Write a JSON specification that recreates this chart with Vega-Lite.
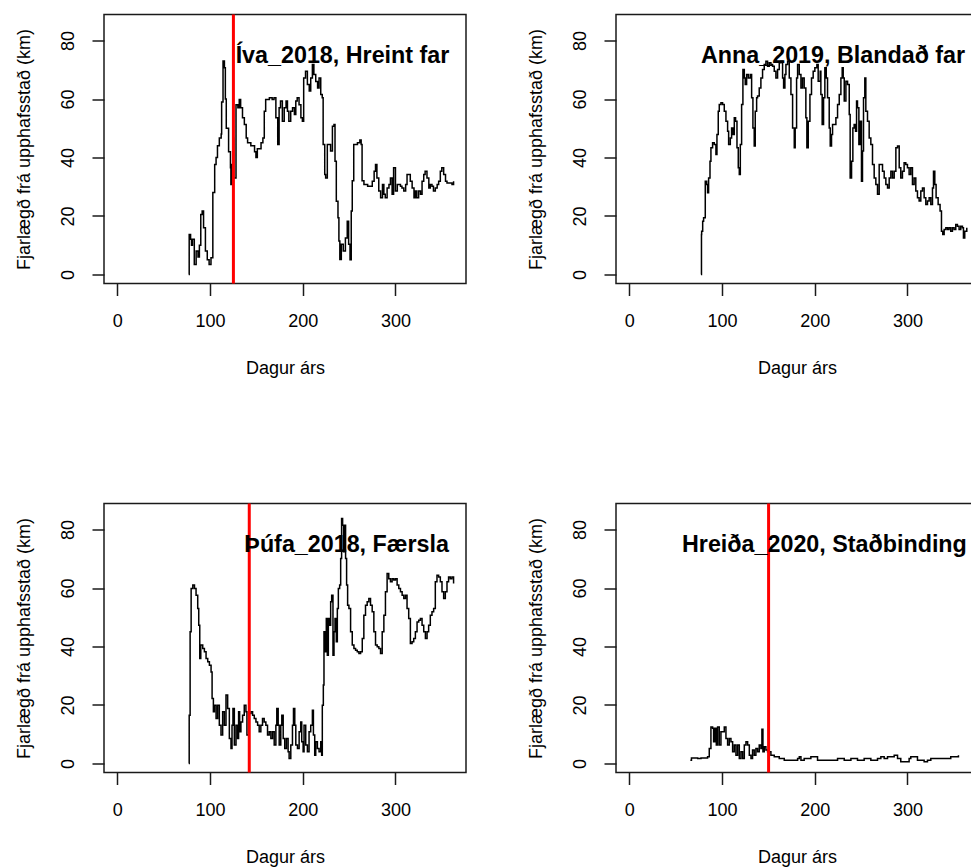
{
  "$schema": "https://vega.github.io/schema/vega-lite/v6.json",
  "padding": {"left": 14, "top": 11.5, "right": 0, "bottom": 0},
  "bounds": "flush",
  "spacing": {"row": 220, "column": 150},
  "columns": 2,
  "datasets": {
    "iva": [
      {"day":77,"km":0},{"day":77.5,"km":13.7},{"day":79,"km":12},{"day":80,"km":10},{"day":81,"km":12},{"day":83,"km":3.4},{"day":85,"km":8},{"day":87,"km":6},{"day":88.5,"km":10},{"day":90,"km":20.5},{"day":91.5,"km":21.7},{"day":93,"km":16},{"day":95,"km":8},{"day":97,"km":5},{"day":99,"km":3.4},{"day":101,"km":5.7},{"day":103,"km":28},{"day":105,"km":37.6},{"day":106.5,"km":40},{"day":108,"km":44},{"day":110,"km":46.7},{"day":112,"km":48},{"day":112.5,"km":59},{"day":114,"km":73},{"day":115.5,"km":70.7},{"day":116.5,"km":60},{"day":117.5,"km":50},{"day":120,"km":42},{"day":122,"km":36.5},{"day":122.5,"km":30.8},{"day":123.5,"km":37.6},{"day":124.7,"km":46.7},{"day":125.5,"km":33},{"day":128,"km":58},{"day":130,"km":57},{"day":131.5,"km":59.8},{"day":133,"km":57},{"day":135,"km":53.6},{"day":137,"km":51.3},{"day":139,"km":46.7},{"day":140.5,"km":45},{"day":144,"km":44},{"day":148,"km":42},{"day":149.5,"km":40},{"day":151,"km":43},{"day":155,"km":45},{"day":157,"km":46.7},{"day":158.5,"km":55.8},{"day":160,"km":59.8},{"day":164,"km":60.4},{"day":167,"km":59.8},{"day":169,"km":60.4},{"day":171,"km":53.6},{"day":173,"km":44.4},{"day":174.5,"km":57},{"day":176,"km":59.3},{"day":178,"km":52.4},{"day":180,"km":57},{"day":182,"km":59.3},{"day":183.5,"km":55.8},{"day":185,"km":52.4},{"day":187,"km":55.8},{"day":189,"km":57},{"day":191,"km":54.7},{"day":192.5,"km":59.3},{"day":194,"km":60.4},{"day":196,"km":58},{"day":198,"km":53.6},{"day":199.6,"km":52.4},{"day":201,"km":67.2},{"day":203,"km":69.5},{"day":205,"km":65},{"day":207,"km":62.7},{"day":208.6,"km":67.2},{"day":210.4,"km":71.8},{"day":212,"km":68.4},{"day":214,"km":66},{"day":216,"km":63.8},{"day":217.6,"km":67.2},{"day":219.4,"km":61.5},{"day":221,"km":60.4},{"day":222,"km":44.4},{"day":223.7,"km":34.2},{"day":224.7,"km":33},{"day":226.5,"km":44.4},{"day":228.3,"km":44.4},{"day":230,"km":42.2},{"day":232,"km":50.7},{"day":233.7,"km":51.3},{"day":234.8,"km":38.7},{"day":236.2,"km":25},{"day":238,"km":19.4},{"day":239,"km":11.4},{"day":240,"km":5.1},{"day":241.6,"km":10.3},{"day":243.7,"km":8},{"day":246,"km":12.5},{"day":248,"km":18.2},{"day":249.5,"km":10.3},{"day":251,"km":5},{"day":252.3,"km":21.7},{"day":253.4,"km":32},{"day":255,"km":44.4},{"day":259,"km":45},{"day":261.6,"km":46},{"day":263,"km":44.4},{"day":264,"km":32},{"day":266,"km":30.8},{"day":270,"km":30.2},{"day":273,"km":30.2},{"day":275,"km":31.9},{"day":277,"km":35.3},{"day":278.5,"km":37.6},{"day":280,"km":33},{"day":282,"km":28.5},{"day":284,"km":26.2},{"day":286,"km":30.8},{"day":287.5,"km":27.4},{"day":289,"km":26.2},{"day":291,"km":29.6},{"day":293,"km":30.8},{"day":294.6,"km":33},{"day":296.4,"km":27.4},{"day":298,"km":36.5},{"day":300,"km":28.5},{"day":302,"km":30.8},{"day":304,"km":30.8},{"day":305.4,"km":30.2},{"day":307,"km":29.6},{"day":309,"km":28.5},{"day":311,"km":30.8},{"day":312.5,"km":34.2},{"day":314.3,"km":34.2},{"day":316,"km":31.9},{"day":318,"km":29.6},{"day":320,"km":26.2},{"day":321.5,"km":28.5},{"day":323,"km":26.2},{"day":325,"km":28.5},{"day":327,"km":27.4},{"day":328.7,"km":31.9},{"day":330.5,"km":34.2},{"day":332,"km":35.3},{"day":334,"km":33},{"day":336,"km":29.6},{"day":337.6,"km":30.8},{"day":339.4,"km":30.2},{"day":341,"km":28.5},{"day":343,"km":29.6},{"day":345,"km":30.8},{"day":346.6,"km":31.9},{"day":348.4,"km":35.3},{"day":350,"km":36.5},{"day":352,"km":34.2},{"day":354,"km":31.9},{"day":355.6,"km":31.3},{"day":359,"km":31.3},{"day":361,"km":30.8},{"day":362.7,"km":31.9}
    ],
    "anna": [
      {"day":77.3,"km":0},{"day":77.8,"km":13.7},{"day":78,"km":14.8},{"day":79.1,"km":18.2},{"day":80.1,"km":19.4},{"day":81.9,"km":31.9},{"day":83.4,"km":30.8},{"day":84.4,"km":27.9},{"day":85.5,"km":33},{"day":87,"km":38.7},{"day":88,"km":43.3},{"day":89.8,"km":45},{"day":91.6,"km":44.4},{"day":93.4,"km":41},{"day":94.5,"km":47.9},{"day":95.9,"km":55.8},{"day":97,"km":58.1},{"day":98.8,"km":58.7},{"day":100.6,"km":58.1},{"day":102.4,"km":55.8},{"day":104.2,"km":52.4},{"day":106,"km":49},{"day":107.1,"km":44.4},{"day":108.9,"km":46.7},{"day":110.3,"km":50.1},{"day":111.8,"km":47.9},{"day":113.2,"km":53.6},{"day":114.6,"km":52.4},{"day":116.1,"km":43.3},{"day":117.5,"km":36.5},{"day":118.6,"km":34.2},{"day":119.7,"km":44.4},{"day":121.1,"km":58.1},{"day":122.5,"km":70.1},{"day":124,"km":67.2},{"day":125,"km":65},{"day":126.5,"km":68.4},{"day":128.3,"km":67.2},{"day":130.4,"km":68.4},{"day":131.9,"km":60.4},{"day":133.3,"km":50.1},{"day":134.7,"km":43.9},{"day":135.8,"km":55.8},{"day":137.3,"km":60.4},{"day":138.3,"km":61},{"day":140.1,"km":63.8},{"day":141.9,"km":67.2},{"day":143.7,"km":70.1},{"day":145.5,"km":71.8},{"day":147.3,"km":72.9},{"day":149.1,"km":71.2},{"day":150.9,"km":72.4},{"day":152.7,"km":71.8},{"day":154.5,"km":71.2},{"day":156.3,"km":69.5},{"day":158.1,"km":67.2},{"day":159.9,"km":70.1},{"day":161.7,"km":72.4},{"day":163.5,"km":72.9},{"day":165.3,"km":67.2},{"day":166.4,"km":63.8},{"day":167.8,"km":68.4},{"day":168.9,"km":71.8},{"day":170.7,"km":72.9},{"day":172.5,"km":67.2},{"day":174.3,"km":61.5},{"day":176.1,"km":50.1},{"day":177.9,"km":43.3},{"day":178.9,"km":50.1},{"day":180.4,"km":67.2},{"day":181.5,"km":71.8},{"day":183.3,"km":68.4},{"day":185.1,"km":63.8},{"day":186.8,"km":67.2},{"day":188.6,"km":63.8},{"day":190.4,"km":53.6},{"day":191.5,"km":43.3},{"day":193,"km":52.4},{"day":194.8,"km":61.5},{"day":196.5,"km":67.2},{"day":198.3,"km":69.5},{"day":200.1,"km":70.7},{"day":202.3,"km":71.8},{"day":203.7,"km":66.1},{"day":205.9,"km":69.5},{"day":206.6,"km":61.5},{"day":208,"km":51.3},{"day":209.5,"km":60.4},{"day":210.9,"km":70.7},{"day":212.4,"km":67.2},{"day":213.8,"km":60.4},{"day":215.6,"km":50.1},{"day":216.7,"km":43.9},{"day":218.1,"km":47.9},{"day":219.2,"km":51.3},{"day":221,"km":51.3},{"day":222.8,"km":53.6},{"day":224.6,"km":58.1},{"day":226.4,"km":61.5},{"day":228.2,"km":67.2},{"day":229.6,"km":70.7},{"day":230.7,"km":67.2},{"day":231.8,"km":59.3},{"day":233.6,"km":66.1},{"day":235.4,"km":65},{"day":237.2,"km":54.7},{"day":238.2,"km":33},{"day":239.7,"km":38.7},{"day":241.1,"km":50.1},{"day":242.5,"km":51.3},{"day":244,"km":49},{"day":245.1,"km":59.3},{"day":246.1,"km":57},{"day":247.6,"km":44.4},{"day":249,"km":52.4},{"day":250.4,"km":31.9},{"day":251.5,"km":42.2},{"day":252.6,"km":60.4},{"day":254,"km":67.2},{"day":255.1,"km":55.8},{"day":256.9,"km":52.4},{"day":258.7,"km":46.7},{"day":260.5,"km":44.4},{"day":262.3,"km":37.6},{"day":264.1,"km":33},{"day":265.9,"km":30.8},{"day":267.7,"km":27.4},{"day":269.5,"km":37.6},{"day":271.3,"km":37.6},{"day":273.1,"km":35.3},{"day":274.9,"km":33},{"day":276.7,"km":30.8},{"day":278.5,"km":29.6},{"day":280.3,"km":33},{"day":282.1,"km":35.3},{"day":283.9,"km":33},{"day":285.7,"km":35.3},{"day":287.5,"km":43.3},{"day":289.3,"km":43.9},{"day":291.1,"km":36.5},{"day":292.8,"km":33},{"day":294.6,"km":35.3},{"day":296.4,"km":38.2},{"day":298.2,"km":37.6},{"day":300,"km":36.5},{"day":301.8,"km":34.2},{"day":303.6,"km":36.5},{"day":305.4,"km":30.8},{"day":307.2,"km":33},{"day":309,"km":28.5},{"day":310.8,"km":26.2},{"day":312.6,"km":25.1},{"day":314.4,"km":28.5},{"day":316.2,"km":29.6},{"day":318,"km":26.2},{"day":319.8,"km":23.9},{"day":321.6,"km":25.1},{"day":323.4,"km":26.2},{"day":325.2,"km":23.9},{"day":327,"km":29.6},{"day":328.1,"km":35.3},{"day":329.5,"km":30.8},{"day":330.9,"km":26.2},{"day":333.1,"km":23.9},{"day":335.2,"km":21.7},{"day":336.7,"km":14.8},{"day":338.1,"km":13.7},{"day":339.6,"km":15.4},{"day":341.4,"km":16},{"day":343.2,"km":15.4},{"day":344.9,"km":16},{"day":346.7,"km":14.8},{"day":348.5,"km":16},{"day":350.3,"km":15.4},{"day":352.1,"km":17.1},{"day":353.9,"km":16.5},{"day":355.7,"km":15.4},{"day":357.5,"km":16.5},{"day":359.3,"km":16},{"day":360.4,"km":12.5},{"day":361.8,"km":14.8},{"day":364,"km":16}
    ],
    "thufa": [
      {"day":77.1,"km":0},{"day":77.5,"km":16.5},{"day":78.5,"km":45},{"day":79.6,"km":59.8},{"day":81.4,"km":61},{"day":83.2,"km":59.8},{"day":84.9,"km":57.5},{"day":86.7,"km":53},{"day":87.8,"km":47.3},{"day":88.9,"km":35.9},{"day":90,"km":40.5},{"day":92.1,"km":39.3},{"day":93.9,"km":38.2},{"day":95.7,"km":35.9},{"day":97.5,"km":34.8},{"day":99.3,"km":33.6},{"day":101.1,"km":31.3},{"day":102.2,"km":22.2},{"day":103.6,"km":17.7},{"day":104.7,"km":19.9},{"day":106.5,"km":15.4},{"day":108.2,"km":19.9},{"day":110,"km":13.1},{"day":111.8,"km":9.7},{"day":113.6,"km":17.7},{"day":115.4,"km":13.1},{"day":117.2,"km":23.4},{"day":119,"km":18.8},{"day":120.8,"km":8.5},{"day":122.6,"km":5.1},{"day":123.7,"km":13.1},{"day":124.7,"km":18.8},{"day":126.2,"km":6.3},{"day":128,"km":13.1},{"day":129.7,"km":8.5},{"day":130.8,"km":17.7},{"day":131.9,"km":10.8},{"day":133.3,"km":14.2},{"day":135.1,"km":16.5},{"day":136.9,"km":19.9},{"day":138.7,"km":17.7},{"day":139.8,"km":9.7},{"day":142.3,"km":17.1},{"day":144.1,"km":17.7},{"day":145.9,"km":16.5},{"day":147.7,"km":15.4},{"day":149.5,"km":14.2},{"day":151.3,"km":13.1},{"day":153,"km":10.8},{"day":154.8,"km":13.1},{"day":156.6,"km":15.4},{"day":158.4,"km":14.2},{"day":160.2,"km":13.1},{"day":162,"km":9.7},{"day":163.8,"km":10.8},{"day":165.6,"km":8.5},{"day":167.4,"km":10.8},{"day":169.2,"km":6.3},{"day":171,"km":13.1},{"day":172,"km":18.8},{"day":173.5,"km":13.1},{"day":174.6,"km":6.3},{"day":176.3,"km":13.1},{"day":177.4,"km":16.5},{"day":178.9,"km":8.5},{"day":180.6,"km":5.1},{"day":182.4,"km":8.5},{"day":184.2,"km":4},{"day":185.3,"km":1.7},{"day":187.1,"km":6.3},{"day":188.9,"km":13.1},{"day":190,"km":18.8},{"day":191.4,"km":13.1},{"day":192.5,"km":6.3},{"day":194.3,"km":5.1},{"day":196.1,"km":10.8},{"day":197.8,"km":14.2},{"day":198.9,"km":7.4},{"day":200.4,"km":4},{"day":201.4,"km":13.1},{"day":203.2,"km":6.3},{"day":205,"km":4},{"day":206.8,"km":10.8},{"day":208.6,"km":13.1},{"day":210.4,"km":18.2},{"day":211.5,"km":9.7},{"day":212.9,"km":2.8},{"day":214,"km":7.4},{"day":215.8,"km":5.1},{"day":217.6,"km":4},{"day":219.4,"km":7.4},{"day":220.4,"km":2.8},{"day":221.1,"km":19.9},{"day":222.2,"km":26.8},{"day":222.9,"km":45},{"day":224,"km":38.2},{"day":225.4,"km":49.6},{"day":226.5,"km":37},{"day":227.6,"km":49.6},{"day":229,"km":47.3},{"day":230.1,"km":55.3},{"day":231.2,"km":57.5},{"day":232.6,"km":37},{"day":233.7,"km":45},{"day":234.8,"km":49.6},{"day":236.2,"km":41.6},{"day":237.3,"km":53},{"day":238.4,"km":59.8},{"day":239.8,"km":61},{"day":240.9,"km":70.1},{"day":241.9,"km":83.8},{"day":243,"km":81.5},{"day":244.1,"km":72.4},{"day":245.2,"km":81.5},{"day":246.2,"km":70.1},{"day":247.3,"km":61},{"day":248.4,"km":54.1},{"day":249.8,"km":53},{"day":251.6,"km":45},{"day":253.4,"km":40.5},{"day":255.2,"km":39.3},{"day":257,"km":38.7},{"day":258.8,"km":38.2},{"day":260.6,"km":37.6},{"day":262.4,"km":38.2},{"day":264.2,"km":42.7},{"day":265.9,"km":50.7},{"day":267.7,"km":54.1},{"day":269.5,"km":55.3},{"day":271.3,"km":56.4},{"day":273.1,"km":54.1},{"day":274.9,"km":51.9},{"day":276.7,"km":45},{"day":278.5,"km":40.5},{"day":280.3,"km":39.9},{"day":282.1,"km":39.3},{"day":283.9,"km":37.6},{"day":285.7,"km":45},{"day":287.5,"km":50.7},{"day":289.2,"km":58.7},{"day":291,"km":65},{"day":292.8,"km":63.2},{"day":294.6,"km":62.1},{"day":296.4,"km":63.2},{"day":298.2,"km":62.7},{"day":300,"km":63.2},{"day":301.8,"km":61},{"day":303.6,"km":59.8},{"day":305.4,"km":58.7},{"day":307.2,"km":57.5},{"day":309,"km":56.4},{"day":310.8,"km":57.5},{"day":312.5,"km":53},{"day":314.3,"km":49.6},{"day":316.1,"km":41},{"day":317.9,"km":41.6},{"day":319.7,"km":42.7},{"day":321.5,"km":45},{"day":323.3,"km":48.4},{"day":325.1,"km":49},{"day":326.9,"km":49.6},{"day":328.7,"km":47.3},{"day":330.5,"km":45},{"day":332.3,"km":42.7},{"day":334.1,"km":45},{"day":335.8,"km":47.3},{"day":337.6,"km":50.7},{"day":339.4,"km":51.9},{"day":341.2,"km":53},{"day":343,"km":62.1},{"day":344.8,"km":64.4},{"day":346.6,"km":63.8},{"day":348.4,"km":62.1},{"day":350.2,"km":58.7},{"day":352,"km":56.4},{"day":353.8,"km":58.7},{"day":355.6,"km":62.1},{"day":357.3,"km":63.8},{"day":359.1,"km":63.2},{"day":360.9,"km":63.8},{"day":362.7,"km":61.5}
    ],
    "hreida": [
      {"day":65.8,"km":1.1},{"day":67,"km":1.9},{"day":70.1,"km":1.9},{"day":73.7,"km":1.7},{"day":77.3,"km":1.9},{"day":82.6,"km":1.9},{"day":84.4,"km":2.3},{"day":86.2,"km":5.1},{"day":88,"km":12.5},{"day":89.8,"km":12},{"day":90.9,"km":7.4},{"day":92.3,"km":12},{"day":93.8,"km":6.3},{"day":95.2,"km":12.5},{"day":97,"km":6.3},{"day":98.8,"km":10.8},{"day":100.6,"km":10.8},{"day":102.4,"km":12.5},{"day":104.2,"km":8.5},{"day":106,"km":6.3},{"day":107.8,"km":8.5},{"day":109.6,"km":7.4},{"day":111.4,"km":4},{"day":113.2,"km":6.3},{"day":115,"km":2.8},{"day":116.8,"km":6.3},{"day":118.6,"km":1.7},{"day":120.4,"km":4},{"day":122.2,"km":1.7},{"day":124,"km":6.3},{"day":125.8,"km":7.4},{"day":127.6,"km":6.3},{"day":129.4,"km":2.8},{"day":131.2,"km":1.7},{"day":132.9,"km":4.6},{"day":134.7,"km":2.8},{"day":136.5,"km":5.1},{"day":138.3,"km":4},{"day":140.1,"km":6.3},{"day":141.9,"km":5.1},{"day":143,"km":11.7},{"day":144.1,"km":4},{"day":145.5,"km":5.7},{"day":147.3,"km":4.6},{"day":149.1,"km":4},{"day":150.9,"km":4},{"day":152.7,"km":2.8},{"day":156.3,"km":2.3},{"day":159.9,"km":2.3},{"day":161.7,"km":1.7},{"day":163.5,"km":1.7},{"day":167.1,"km":1.1},{"day":174.3,"km":1.1},{"day":181.5,"km":1.7},{"day":183.3,"km":2.3},{"day":185.1,"km":1.1},{"day":188.6,"km":1.7},{"day":195.8,"km":2.3},{"day":203,"km":1.1},{"day":210.2,"km":1.1},{"day":217.4,"km":1.1},{"day":224.6,"km":1.7},{"day":231.8,"km":1.1},{"day":239,"km":1.7},{"day":246.1,"km":1.1},{"day":253.3,"km":1.7},{"day":260.5,"km":1.1},{"day":267.7,"km":1.7},{"day":271.3,"km":2.3},{"day":274.9,"km":1.7},{"day":278.5,"km":2.3},{"day":282.1,"km":2.3},{"day":285.7,"km":2.8},{"day":289.3,"km":1.7},{"day":292.8,"km":0.6},{"day":296.4,"km":0.6},{"day":300,"km":0.6},{"day":301.8,"km":1.7},{"day":303.6,"km":2.3},{"day":307.2,"km":2.3},{"day":310.8,"km":1.1},{"day":318,"km":0.6},{"day":321.6,"km":1.1},{"day":325.2,"km":1.7},{"day":332.4,"km":1.7},{"day":339.6,"km":1.7},{"day":346.7,"km":2.3},{"day":353.9,"km":2.3},{"day":355,"km":2.8}
    ]
  },
  "concat": [
    {
      "width": 362, "height": 269,
      "layer": [
        {"data": {"name": "iva"}, "mark": {"type": "line", "interpolate": "step-after", "color": "black", "strokeWidth": 1.5},
         "encoding": {
           "x": {"field": "day", "type": "quantitative", "scale": {"domain": [-14.4, 376.1], "nice": false, "zero": false}, "axis": {"title": "Dagur árs", "values": [0, 100, 200, 300]}},
           "y": {"field": "km", "type": "quantitative", "scale": {"domain": [-3.1, 88.9], "nice": false, "zero": false}, "axis": {"title": "Fjarlægð frá upphafsstað (km)", "values": [0, 20, 40, 60, 80], "labelAngle": -90, "labelAlign": "center", "labelBaseline": "alphabetic", "labelPadding": 18.2}}}},
        {"data": {"values": [{"day": 125.2}]}, "mark": {"type": "rule", "color": "#ff0000", "strokeWidth": 3}, "encoding": {"x": {"field": "day", "type": "quantitative"}}},
        {"data": {"values": [{"day": 127.6, "km": 72.3, "label": "Íva_2018, Hreint far"}]}, "mark": {"type": "text", "align": "left", "baseline": "alphabetic", "fontWeight": "bold", "fontSize": 23.3, "font": "Liberation Sans", "color": "black"},
         "encoding": {"x": {"field": "day", "type": "quantitative"}, "y": {"field": "km", "type": "quantitative"}, "text": {"field": "label"}}}
      ]
    },
    {
      "width": 362, "height": 269,
      "layer": [
        {"data": {"name": "anna"}, "mark": {"type": "line", "interpolate": "step-after", "color": "black", "strokeWidth": 1.5},
         "encoding": {
           "x": {"field": "day", "type": "quantitative", "scale": {"domain": [-14.4, 376.1], "nice": false, "zero": false}, "axis": {"title": "Dagur árs", "values": [0, 100, 200, 300]}},
           "y": {"field": "km", "type": "quantitative", "scale": {"domain": [-3.1, 88.9], "nice": false, "zero": false}, "axis": {"title": "Fjarlægð frá upphafsstað (km)", "values": [0, 20, 40, 60, 80], "labelAngle": -90, "labelAlign": "center", "labelBaseline": "alphabetic", "labelPadding": 18.2}}}},
        {"data": {"values": [{"day": 77.3, "km": 72.3, "label": "Anna_2019, Blandað far"}]}, "mark": {"type": "text", "align": "left", "baseline": "alphabetic", "fontWeight": "bold", "fontSize": 23.3, "font": "Liberation Sans", "color": "black"},
         "encoding": {"x": {"field": "day", "type": "quantitative"}, "y": {"field": "km", "type": "quantitative"}, "text": {"field": "label"}}}
      ]
    },
    {
      "width": 362, "height": 269,
      "layer": [
        {"data": {"name": "thufa"}, "mark": {"type": "line", "interpolate": "step-after", "color": "black", "strokeWidth": 1.5},
         "encoding": {
           "x": {"field": "day", "type": "quantitative", "scale": {"domain": [-14.4, 376.1], "nice": false, "zero": false}, "axis": {"title": "Dagur árs", "values": [0, 100, 200, 300]}},
           "y": {"field": "km", "type": "quantitative", "scale": {"domain": [-3.1, 88.9], "nice": false, "zero": false}, "axis": {"title": "Fjarlægð frá upphafsstað (km)", "values": [0, 20, 40, 60, 80], "labelAngle": -90, "labelAlign": "center", "labelBaseline": "alphabetic", "labelPadding": 18.2}}}},
        {"data": {"values": [{"day": 142.3}]}, "mark": {"type": "rule", "color": "#ff0000", "strokeWidth": 3}, "encoding": {"x": {"field": "day", "type": "quantitative"}}},
        {"data": {"values": [{"day": 137, "km": 72.3, "label": "Þúfa_2018, Færsla"}]}, "mark": {"type": "text", "align": "left", "baseline": "alphabetic", "fontWeight": "bold", "fontSize": 23.3, "font": "Liberation Sans", "color": "black"},
         "encoding": {"x": {"field": "day", "type": "quantitative"}, "y": {"field": "km", "type": "quantitative"}, "text": {"field": "label"}}}
      ]
    },
    {
      "width": 362, "height": 269,
      "layer": [
        {"data": {"name": "hreida"}, "mark": {"type": "line", "interpolate": "step-after", "color": "black", "strokeWidth": 1.5},
         "encoding": {
           "x": {"field": "day", "type": "quantitative", "scale": {"domain": [-14.4, 376.1], "nice": false, "zero": false}, "axis": {"title": "Dagur árs", "values": [0, 100, 200, 300]}},
           "y": {"field": "km", "type": "quantitative", "scale": {"domain": [-3.1, 88.9], "nice": false, "zero": false}, "axis": {"title": "Fjarlægð frá upphafsstað (km)", "values": [0, 20, 40, 60, 80], "labelAngle": -90, "labelAlign": "center", "labelBaseline": "alphabetic", "labelPadding": 18.2}}}},
        {"data": {"values": [{"day": 150.2}]}, "mark": {"type": "rule", "color": "#ff0000", "strokeWidth": 3}, "encoding": {"x": {"field": "day", "type": "quantitative"}}},
        {"data": {"values": [{"day": 56.8, "km": 72.3, "label": "Hreiða_2020, Staðbinding"}]}, "mark": {"type": "text", "align": "left", "baseline": "alphabetic", "fontWeight": "bold", "fontSize": 23.3, "font": "Liberation Sans", "color": "black"},
         "encoding": {"x": {"field": "day", "type": "quantitative"}, "y": {"field": "km", "type": "quantitative"}, "text": {"field": "label"}}}
      ]
    }
  ],
  "config": {
    "font": "Liberation Sans",
    "background": "white",
    "view": {"stroke": "#1a1a1a", "strokeWidth": 1.5},
    "axis": {"domain": false, "grid": false, "tickSize": 12, "tickColor": "#1a1a1a", "tickWidth": 1.5, "labelFontSize": 18, "titleFontSize": 18, "labelColor": "black", "titleColor": "black", "titleFontWeight": "normal", "labelFont": "Liberation Sans", "titleFont": "Liberation Sans", "labelPadding": 17, "labelOverlap": false},
    "axisX": {"titlePadding": 28.5},
    "axisY": {"titlePadding": 26.2}
  }
}
